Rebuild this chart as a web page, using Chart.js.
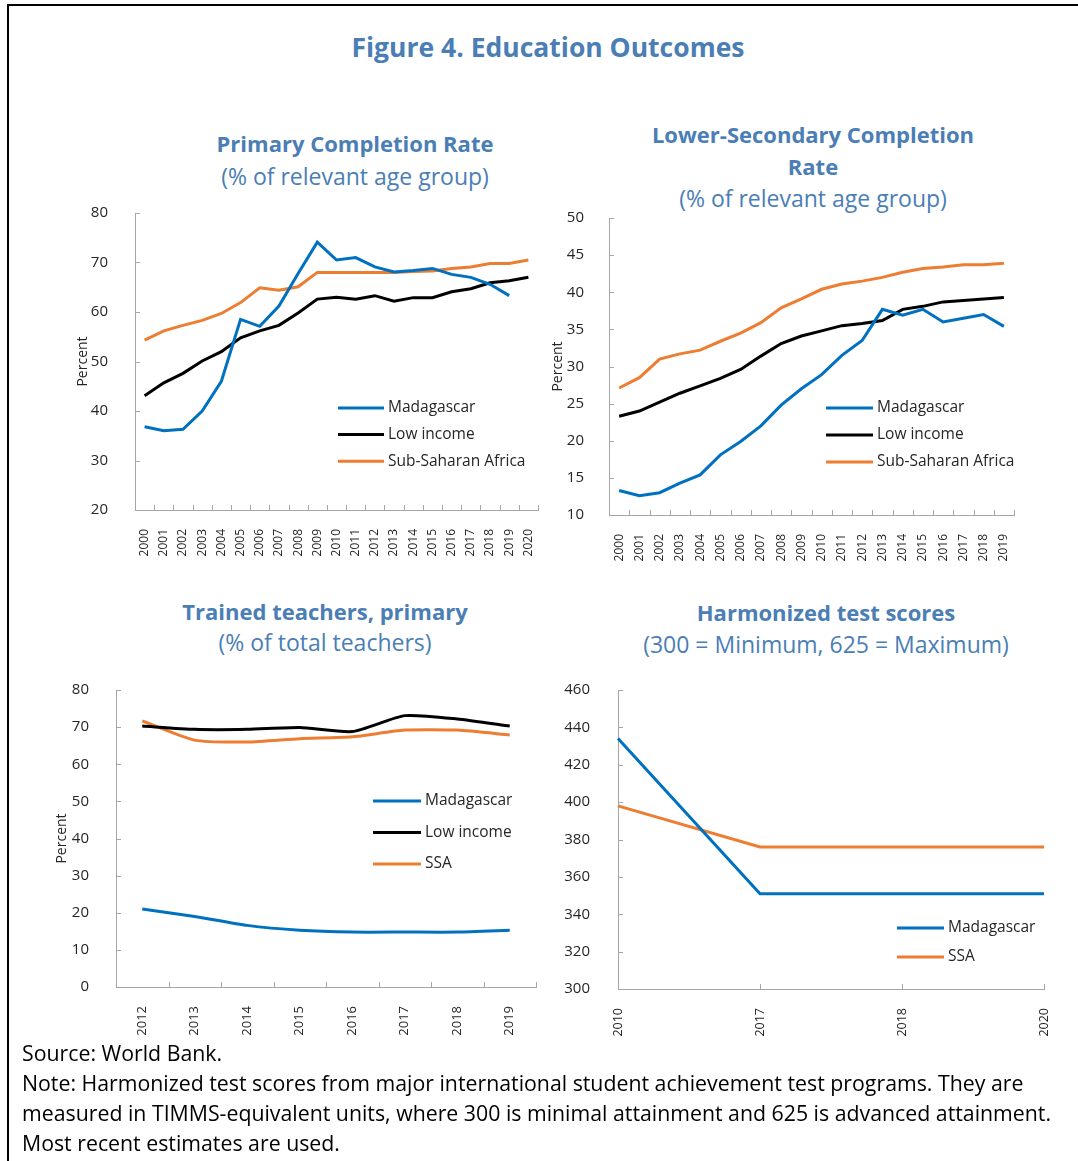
<!DOCTYPE html>
<html>
<head>
<meta charset="utf-8">
<title>Figure 4. Education Outcomes</title>
<script src="https://cdn.jsdelivr.net/npm/chart.js@4.4.1/dist/chart.umd.min.js"></script>
<style>
  body { margin: 0; background: #fff; font-family: 'Open Sans', sans-serif; }
  #page { position: relative; width: 1078px; height: 1161px; overflow: hidden; background: #fff; }
  .frame-top { position: absolute; left: 7px; top: 4px; right: 0; height: 2px; background: #000; }
  .frame-left { position: absolute; left: 7px; top: 4px; bottom: 0; width: 2px; background: #000; }
  .t { position: absolute; width: 600px; text-align: center; color: #4A7EB5; white-space: nowrap; line-height: 30px; }
  .main { font-weight: 700; font-size: 26.5px; }
  .b { font-weight: 700; font-size: 22px; }
  .s { font-size: 23px; }
  .panel { position: absolute; }
  #note { position: absolute; left: 22px; top: 1038px; font-size: 21.3px; line-height: 30px; color: #000; white-space: nowrap; }
</style>
</head>
<body>
<div id="page">
  <div class="frame-top"></div>
  <div class="frame-left"></div>

  <div class="t main" style="left:248px; top:32px;">Figure 4. Education Outcomes</div>

  <div class="t b" style="left:55px; top:128px;">Primary Completion Rate</div>
  <div class="t s" style="left:55px; top:161px;">(% of relevant age group)</div>

  <div class="t b" style="left:513px; top:119px;">Lower-Secondary Completion</div>
  <div class="t b" style="left:513px; top:151px;">Rate</div>
  <div class="t s" style="left:513px; top:183px;">(% of relevant age group)</div>

  <div class="t b" style="left:25px; top:596px;">Trained teachers, primary</div>
  <div class="t s" style="left:25px; top:627px;">(% of total teachers)</div>

  <div class="t b" style="left:526px; top:597px;">Harmonized test scores</div>
  <div class="t s" style="left:526px; top:629px;">(300 = Minimum, 625 = Maximum)</div>

  <canvas class="panel" id="primary" width="520" height="385" style="left:40px; top:195px;"></canvas>
  <canvas class="panel" id="lowerSec" width="520" height="385" style="left:520px; top:200px;"></canvas>
  <canvas class="panel" id="teachers" width="530" height="372" style="left:20px; top:670px;"></canvas>
  <canvas class="panel" id="scores" width="530" height="372" style="left:540px; top:670px;"></canvas>

  <div id="note">Source: World Bank.<br>Note: Harmonized test scores from major international student achievement test programs. They are<br>measured in TIMMS-equivalent units, where 300 is minimal attainment and 625 is advanced attainment.<br>Most recent estimates are used.</div>
</div>

<script>
// ---- data ----
const primaryYears = ['2000','2001','2002','2003','2004','2005','2006','2007','2008','2009','2010',
  '2011','2012','2013','2014','2015','2016','2017','2018','2019','2020'];
const primaryMadagascar = [36.8, 36.0, 36.3, 40.0, 46.0, 58.5, 57.1, 61.2, 67.8, 74.1, 70.5,
  71.0, 69.1, 68.1, 68.4, 68.8, 67.6, 67.0, 65.6, 63.3, null];
const primaryLowIncome = [43.1, 45.7, 47.6, 50.1, 52.0, 54.8, 56.2, 57.3, 59.8, 62.6, 63.0,
  62.6, 63.3, 62.2, 62.9, 62.9, 64.1, 64.7, 65.9, 66.3, 67.0];
const primarySSA = [54.3, 56.2, 57.3, 58.3, 59.7, 61.9, 64.9, 64.4, 65.1, 68.0, 68.0,
  68.0, 68.0, 68.0, 68.2, 68.3, 68.8, 69.1, 69.8, 69.8, 70.5];

const lowerSecYears = ['2000','2001','2002','2003','2004','2005','2006','2007','2008','2009',
  '2010','2011','2012','2013','2014','2015','2016','2017','2018','2019'];
const lowerSecMadagascar = [13.3, 12.6, 13.0, 14.3, 15.4, 18.1, 19.9, 22.0, 24.8, 27.0,
  28.9, 31.5, 33.5, 37.7, 36.9, 37.7, 36.0, 36.5, 37.0, 35.4];
const lowerSecLowIncome = [23.3, 24.0, 25.2, 26.4, 27.4, 28.4, 29.6, 31.4, 33.1, 34.1,
  34.8, 35.5, 35.8, 36.2, 37.7, 38.1, 38.7, 38.9, 39.1, 39.3];
const lowerSecSSA = [27.1, 28.5, 31.0, 31.7, 32.2, 33.4, 34.5, 35.9, 37.9, 39.1,
  40.4, 41.1, 41.5, 42.0, 42.7, 43.2, 43.4, 43.7, 43.7, 43.9];

const teacherYears = ['2012','2013','2014','2015','2016','2017','2018','2019'];
const teachersMadagascar = [21.0, 19.0, 16.6, 15.3, 14.8, 14.8, 14.8, 15.3];
const teachersLowIncome = [70.3, 69.4, 69.4, 69.9, 68.8, 73.1, 72.2, 70.3];
const teachersSSA = [71.7, 66.5, 66.0, 66.9, 67.4, 69.2, 69.2, 67.9];

const scoreYears = ['2010','2017','2018','2020'];
const scoresMadagascar = [434, 351, 351, 351];
const scoresSSA = [398, 376, 376, 376];

const BLUE = '#0070C0';
const BLACK = '#000000';
const ORANGE = '#ED7D31';
const AXIS = '#a6a6a6';
const TEXT = '#262626';

// small tick marks drawn inside the plot, like the original
const insideTicks = {
  id: 'insideTicks',
  afterDraw(chart) {
    const ctx = chart.ctx;
    const xs = chart.scales.x, ys = chart.scales.y;
    ctx.save();
    ctx.strokeStyle = AXIS;
    ctx.lineWidth = 1;
    ctx.beginPath();
    ys.ticks.forEach((t, i) => {
      const py = Math.round(ys.getPixelForTick(i)) + 0.5;
      ctx.moveTo(xs.left, py);
      ctx.lineTo(xs.left + 5, py);
    });
    const n = xs.ticks.length;
    const marks = [];
    if (xs.options.offset) {
      for (let i = 0; i <= n; i++) marks.push(xs.getPixelForValue(i - 0.5));
    } else {
      for (let i = 0; i < n; i++) marks.push(xs.getPixelForTick(i));
    }
    marks.forEach(px => {
      const x = Math.round(px) + 0.5;
      ctx.moveTo(x, ys.bottom);
      ctx.lineTo(x, ys.bottom - 5);
    });
    ctx.stroke();
    ctx.restore();
  }
};

// legend drawn inside the plot area
const lineLegend = {
  id: 'lineLegend',
  afterDraw(chart, args, opts) {
    const ctx = chart.ctx;
    ctx.save();
    ctx.font = '15.5px "Open Sans"';
    ctx.textBaseline = 'middle';
    chart.data.datasets.forEach((ds, i) => {
      const y = opts.y + i * opts.gap;
      ctx.strokeStyle = ds.borderColor;
      ctx.lineWidth = 3;
      ctx.beginPath();
      ctx.moveTo(opts.x, y);
      ctx.lineTo(opts.x + opts.len, y);
      ctx.stroke();
      ctx.fillStyle = TEXT;
      ctx.fillText(ds.label, opts.x + opts.len + 4, y);
    });
    ctx.restore();
  }
};

function line(label, data, color, tension) {
  return {
    label: label,
    data: data,
    borderColor: color,
    backgroundColor: color,
    borderWidth: 3,
    pointRadius: 0,
    fill: false,
    tension: tension || 0
  };
}

function makeChart(id, labels, datasets, cfg) {
  const ctx = document.getElementById(id).getContext('2d');
  return new Chart(ctx, {
    type: 'line',
    data: { labels: labels, datasets: datasets },
    plugins: [insideTicks, lineLegend],
    options: {
      responsive: false,
      animation: false,
      layout: { padding: cfg.padding },
      plugins: {
        legend: { display: false },
        tooltip: { enabled: false },
        lineLegend: cfg.legend
      },
      scales: {
        x: {
          offset: cfg.offset,
          grid: { display: false },
          border: { color: AXIS, width: 1 },
          ticks: {
            autoSkip: false,
            minRotation: 90,
            maxRotation: 90,
            padding: 11,
            color: TEXT,
            font: { family: 'Open Sans', size: cfg.xFont }
          },
          afterFit: s => { s.height = cfg.xHeight; }
        },
        y: {
          min: cfg.min,
          max: cfg.max,
          grid: { display: false },
          border: { color: AXIS, width: 1 },
          ticks: {
            stepSize: cfg.step,
            padding: cfg.tickPad,
            color: TEXT,
            font: { family: 'Open Sans', size: 15 }
          },
          title: {
            display: !!cfg.yTitle,
            text: cfg.yTitle || '',
            color: TEXT,
            padding: { top: cfg.titlePad, bottom: 0 },
            font: { family: 'Open Sans', size: 14 }
          },
          // fixed width; tick padding should not push the plot down
          afterFit: s => {
            s.width = cfg.yWidth;
            s.paddingTop = 0;
            s.paddingBottom = 0;
          }
        }
      }
    }
  });
}

makeChart('primary', primaryYears, [
  line('Madagascar', primaryMadagascar, BLUE),
  line('Low income', primaryLowIncome, BLACK),
  line('Sub-Saharan Africa', primarySSA, ORANGE)
], {
  padding: { left: 30, right: 22, top: 18, bottom: 10 },
  offset: true, min: 20, max: 80, step: 10, xFont: 12,
  yTitle: 'Percent', titlePad: 5, yWidth: 65, xHeight: 60, tickPad: 19,
  legend: { x: 298, y: 213, gap: 26.6, len: 46 }
});

makeChart('lowerSec', lowerSecYears, [
  line('Madagascar', lowerSecMadagascar, BLUE),
  line('Low income', lowerSecLowIncome, BLACK),
  line('Sub-Saharan Africa', lowerSecSSA, ORANGE)
], {
  padding: { left: 30, right: 26, top: 18, bottom: 10 },
  offset: true, min: 10, max: 50, step: 5, xFont: 12,
  yTitle: 'Percent', titlePad: 0, yWidth: 59, xHeight: 60, tickPad: 17,
  legend: { x: 306, y: 208, gap: 27, len: 47 }
});

makeChart('teachers', teacherYears, [
  line('Madagascar', teachersMadagascar, BLUE, 0.2),
  line('Low income', teachersLowIncome, BLACK, 0.2),
  line('SSA', teachersSSA, ORANGE, 0.2)
], {
  padding: { left: 30, right: 14, top: 20, bottom: 0 },
  offset: true, min: 0, max: 80, step: 10, xFont: 13,
  yTitle: 'Percent', titlePad: 4, yWidth: 66, xHeight: 55, tickPad: 19,
  legend: { x: 353, y: 131, gap: 31.5, len: 48 }
});

makeChart('scores', scoreYears, [
  line('Madagascar', scoresMadagascar, BLUE),
  line('SSA', scoresSSA, ORANGE)
], {
  padding: { left: 10, right: 25, top: 20, bottom: 0 },
  offset: false, min: 300, max: 460, step: 20, xFont: 12.5,
  yTitle: '', titlePad: 0, yWidth: 68, xHeight: 53, tickPad: 20,
  legend: { x: 357, y: 258, gap: 29, len: 47 }
});
</script>
</body>
</html>
